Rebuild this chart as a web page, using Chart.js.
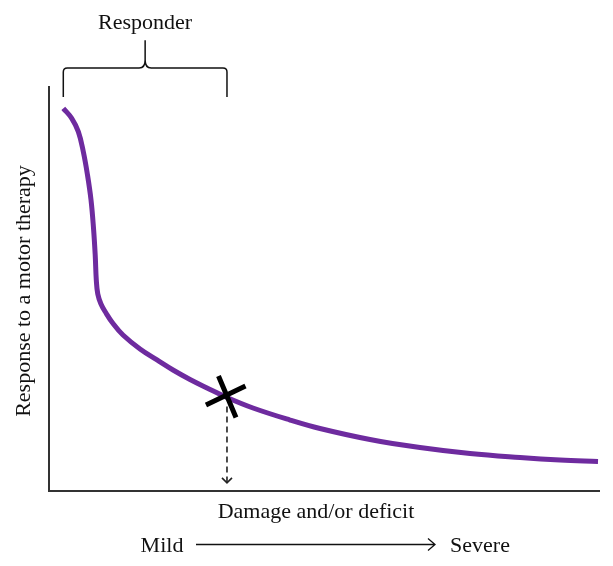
<!DOCTYPE html>
<html><head><meta charset="utf-8">
<script src="https://cdn.jsdelivr.net/npm/chart.js@4/dist/chart.umd.min.js"></script>
<style>html,body{margin:0;padding:0;background:#fff;} canvas{display:block;}</style>
</head><body>
<canvas id="c" width="613" height="566"></canvas>
<script>
// Conceptual curve: damage/deficit (0-100) vs response to therapy (0-100)
const damage   = [2.60, 4.13, 5.33, 6.24, 7.00, 7.64, 8.09, 8.40, 8.60, 8.87, 9.45, 10.36, 11.64, 13.45, 16.55, 19.64, 22.55, 25.64, 28.73, 32.36, 37.09, 43.82, 49.27, 58.36, 67.45, 76.55, 85.64, 92.91, 99.82];
const response = [94.73, 92.25, 88.94, 83.99, 78.22, 72.03, 65.10, 58.42, 52.23, 48.76, 46.29, 44.06, 41.46, 38.61, 35.15, 32.43, 29.95, 27.60, 25.50, 23.14, 20.54, 17.57, 15.47, 12.75, 10.77, 9.28, 8.29, 7.67, 7.30];
const markerDamage = [32.36];
const markerResponse = [23.4];
const arrowEndResponse = [2];
const bracketLevels = [97.5, 104.7, 111.6]; // bracket foot, bar, tip (response units)
const yTitle = "Response to a motor therapy";
const xTitle = "Damage and/or deficit";
const leftLabel = "Mild";
const rightLabel = "Severe";
const bracketLabel = "Responder";

const FONT = '22px "Liberation Serif", "Times New Roman", serif';

const overlay = {
  id: 'overlay',
  afterDraw(chart) {
    const ctx = chart.ctx, xs = chart.scales.x, ys = chart.scales.y;
    ctx.save();
    // Dashed arrow from the marker down to the axis
    const mx = xs.getPixelForValue(markerDamage[0]);
    const my = ys.getPixelForValue(markerResponse[0]);
    const ay = ys.getPixelForValue(arrowEndResponse[0]);
    ctx.strokeStyle = '#222';
    ctx.lineWidth = 1.6;
    ctx.setLineDash([6, 4]);
    ctx.beginPath(); ctx.moveTo(mx, my + 10); ctx.lineTo(mx, ay); ctx.stroke();
    ctx.setLineDash([]);
    ctx.beginPath(); ctx.moveTo(mx - 5, ay - 5); ctx.lineTo(mx, ay); ctx.lineTo(mx + 5, ay - 5); ctx.stroke();

    // X marker
    ctx.strokeStyle = '#000';
    ctx.lineWidth = 5;
    ctx.lineCap = 'butt';
    ctx.beginPath();
    ctx.moveTo(mx - 8.5, my - 20.5); ctx.lineTo(mx + 9, my + 21);
    ctx.moveTo(mx + 18.5, my - 10.5); ctx.lineTo(mx - 21, my + 8.5);
    ctx.stroke();

    // Bracket
    const x0 = xs.getPixelForValue(damage[0]);
    const x1 = mx;
    const xm = (x0 + x1) / 2;
    const yf = ys.getPixelForValue(bracketLevels[0]);
    const yb = ys.getPixelForValue(bracketLevels[1]);
    const yt = ys.getPixelForValue(bracketLevels[2]);
    const r = 4;
    ctx.strokeStyle = '#111';
    ctx.lineWidth = 1.5;
    ctx.beginPath();
    ctx.moveTo(x0, yf);
    ctx.lineTo(x0, yb + r);
    ctx.quadraticCurveTo(x0, yb, x0 + r, yb);
    ctx.lineTo(xm - 6, yb);
    ctx.quadraticCurveTo(xm, yb, xm, yb - 8);
    ctx.lineTo(xm, yt);
    ctx.moveTo(xm, yb - 8);
    ctx.quadraticCurveTo(xm, yb, xm + 6, yb);
    ctx.lineTo(x1 - r, yb);
    ctx.quadraticCurveTo(x1, yb, x1, yb + r);
    ctx.lineTo(x1, yf);
    ctx.stroke();

    // Texts
    ctx.fillStyle = '#111';
    ctx.font = FONT;
    ctx.textAlign = 'center';
    ctx.textBaseline = 'alphabetic';
    ctx.fillText(bracketLabel, xm, 29);
    ctx.fillText(xTitle, 316, 518);
    ctx.fillText(leftLabel, 162, 552);
    ctx.fillText(rightLabel, 480, 552);

    // Mild -> Severe arrow
    ctx.strokeStyle = '#111';
    ctx.lineWidth = 1.3;
    ctx.beginPath();
    ctx.moveTo(196, 544.5); ctx.lineTo(435, 544.5);
    ctx.moveTo(428, 538.5); ctx.lineTo(435, 544.5); ctx.lineTo(428, 550.5);
    ctx.stroke();

    // Y title
    ctx.translate(30, 291);
    ctx.rotate(-Math.PI / 2);
    ctx.fillText(yTitle, 0, 0);
    ctx.restore();
  }
};

new Chart(document.getElementById('c'), {
  type: 'line',
  data: {
    datasets: [{
      data: damage.map((d, i) => ({ x: d, y: response[i] })),
      borderColor: '#6e2b9f',
      borderWidth: 5,
      borderCapStyle: 'butt',
      borderJoinStyle: 'round',
      pointRadius: 0,
      fill: false,
      tension: 0.4
    }]
  },
  options: {
    responsive: false,
    animation: false,
    devicePixelRatio: 1,
    layout: { padding: { left: 49, right: 14, top: 87, bottom: 75 } },
    plugins: { legend: { display: false }, tooltip: { enabled: false } },
    scales: {
      x: {
        type: 'linear', min: 0, max: 100,
        ticks: { display: false },
        grid: { display: false, drawTicks: false },
        border: { display: true, color: '#333', width: 2 }
      },
      y: {
        type: 'linear', min: 0, max: 100,
        ticks: { display: false },
        grid: { display: false, drawTicks: false },
        border: { display: true, color: '#333', width: 2 }
      }
    }
  },
  plugins: [overlay]
});
</script>
</body></html>
